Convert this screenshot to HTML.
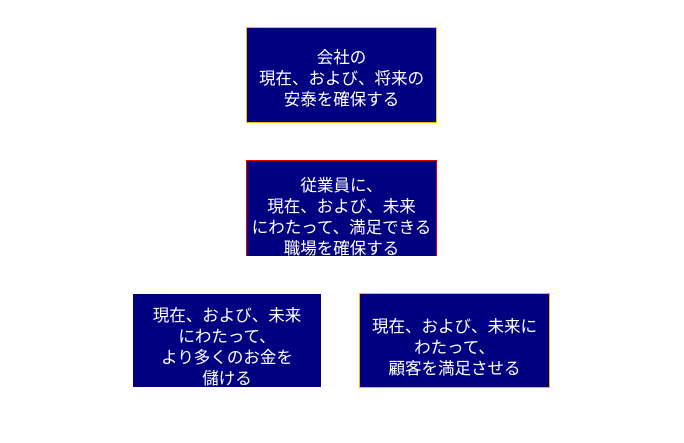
<!DOCTYPE html>
<html><head><meta charset="utf-8"><style>
body{margin:0;width:684px;height:443px;background:#fff;position:relative;overflow:hidden;font-family:"Liberation Sans","Noto Sans CJK JP",sans-serif;}
.b{position:absolute;background:#000080;color:#fff;font-size:16.5px;line-height:21px;text-align:center;box-sizing:border-box;font-weight:normal;overflow:hidden;white-space:nowrap;}
</style></head><body>
<div class="b" style="left:246px;top:27px;width:191px;height:96px;border:1px solid #f0c000;padding-top:20px">会社の<br>現在、および、将来の<br>安泰を確保する</div>
<div class="b" style="left:246px;top:160px;width:191px;height:96px;border:1px solid #e00000;border-bottom:none;padding-top:15px">従業員に、<br>現在、および、未来<br>にわたって、満足できる<br>職場を確保する</div>
<div class="b" style="left:133px;top:294px;width:188px;height:93px;padding-top:12px">現在、および、未来<br>にわたって、<br>より多くのお金を<br>儲ける</div>
<div class="b" style="left:359px;top:293px;width:191px;height:95px;border:1px solid #f0c000;padding-top:23px">現在、および、未来に<br>わたって、<br>顧客を満足させる</div>
</body></html>
